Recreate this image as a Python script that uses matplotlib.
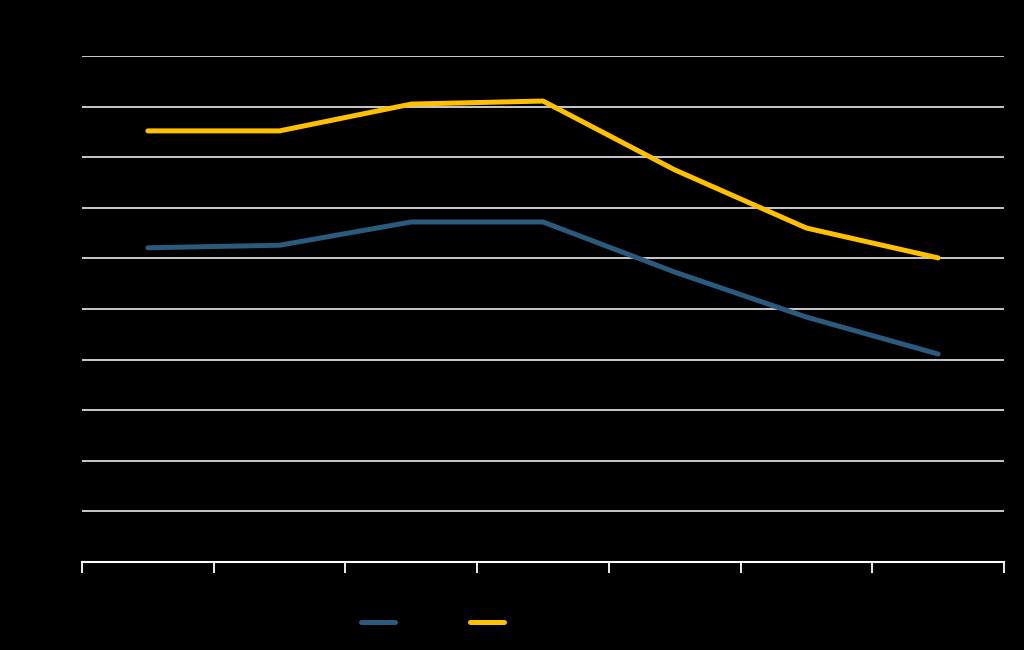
import matplotlib
matplotlib.use("Agg")
import matplotlib.pyplot as plt
import numpy as np

# category axis (labels are not legible in the reference: drawn black on black)
categories = ["1", "2", "3", "4", "5", "6", "7"]
series_blue = [6.21, 6.26, 6.72, 6.72, 5.73, 4.84, 4.11]
series_gold = [8.52, 8.52, 9.05, 9.11, 7.75, 6.60, 6.01]
series_names = ["Series 1", "Series 2"]
y_ticks = [0, 1, 2, 3, 4, 5, 6, 7, 8, 9, 10]

BG = "black"
BLUE = "#2a5a7c"
GOLD = "#ffc000"

fig = plt.figure(figsize=(10.24, 6.5), dpi=100, facecolor=BG)
ax = fig.add_axes([82 / 1024, 88 / 650, 922 / 1024, 506 / 650], facecolor=BG)

x = np.arange(len(categories))
ax.plot(x, series_blue, color=BLUE, lw=3.6, solid_capstyle="round",
        solid_joinstyle="round", label=series_names[0], zorder=3)
ax.plot(x, series_gold, color=GOLD, lw=3.6, solid_capstyle="round",
        solid_joinstyle="round", label=series_names[1], zorder=3)

ax.set_xlim(-0.5, len(categories) - 0.5)
ax.set_ylim(y_ticks[0], y_ticks[-1])
ax.set_yticks(y_ticks)
ax.yaxis.grid(True, color="white", lw=1.1)
ax.set_axisbelow(True)

ax.set_xticks(x)
ax.set_xticklabels(categories, color=BG)
ax.set_xticks(np.arange(-0.5, len(categories)), minor=True)
ax.tick_params(axis="x", which="major", length=0, labelcolor=BG)
ax.tick_params(axis="x", which="minor", length=8, width=1.3, color="white")
ax.tick_params(axis="y", length=0, labelcolor=BG)

for side in ("left", "right", "top"):
    ax.spines[side].set_visible(False)
ax.spines["bottom"].set_color("white")
ax.spines["bottom"].set_linewidth(1.5)

leg = fig.legend(loc="center", bbox_to_anchor=(0.4586, 27 / 650), ncol=2,
                 frameon=False, handlelength=2.2, columnspacing=0.1,
                 fontsize=11)
for t in leg.get_texts():
    t.set_color(BG)

fig.savefig("out.png", facecolor=BG)
plt.close(fig)
